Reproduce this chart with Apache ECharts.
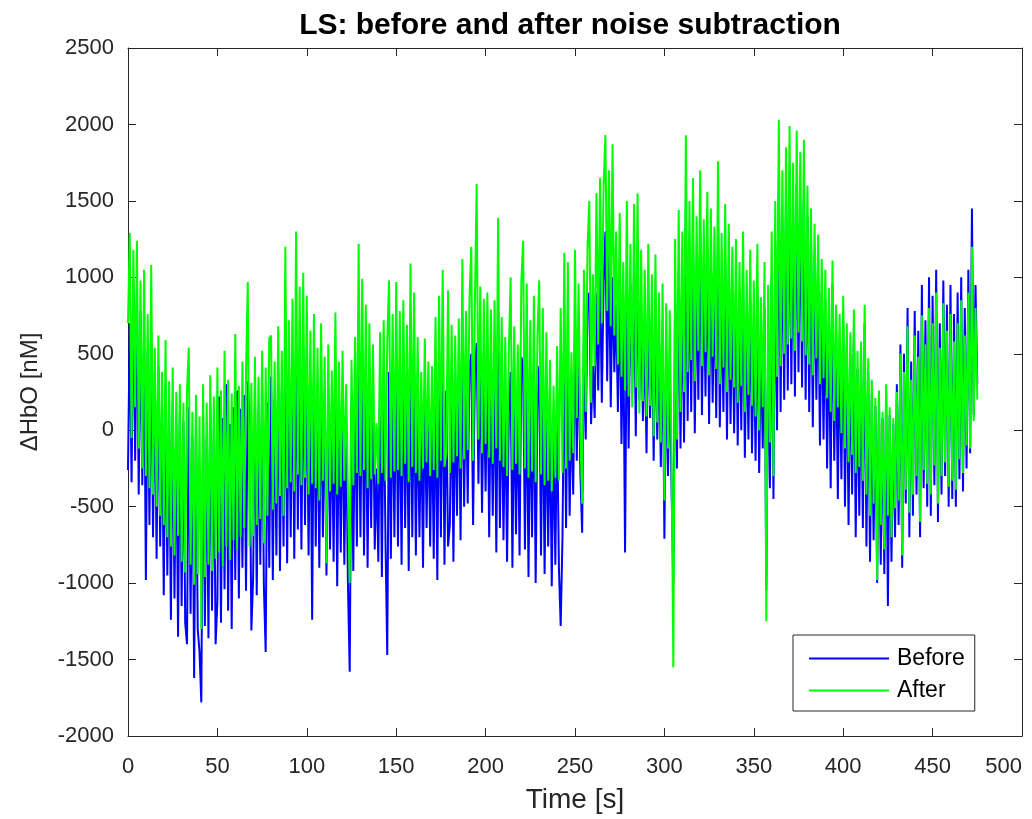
<!DOCTYPE html>
<html>
<head>
<meta charset="utf-8">
<script src="https://cdn.jsdelivr.net/npm/echarts@6/dist/echarts.min.js"></script>
<style>
html, body { margin: 0; padding: 0; background: #fff; }
#chart { width: 1032px; height: 819px; }
</style>
</head>
<body>
<div id="chart"></div>
<script>
// LS channel, one sample per second starting at t = 0 s
const t_start = 0;
const t_step = 1;

const series_names = ["Before", "After"];

// dHbO before noise subtraction [nM]
const before_values = [
    -260, 700, -340, 980, -200, 900, -420, 780, -360, 640,
    -980, 520, -620, 640, -700, 380, -840, 420, -760, 150,
    -1080, 260, -950, 100, -1240, 180, -1100, 40, -1350, 120,
    -1150, 60, -1260, -1400, 150, -1200, -40, -1620, 90, -1300,
    -1450, -1780, 100, -1280, -50, -1360, 180, -1180, 20, -1400,
    -1120, 220, -1260, 80, -1040, 300, -1180, 40, -1300, 150,
    -980, 260, -1100, 140, -900, 230, -1050, 320, 60, -1310,
    -960, 270, -1080, 130, -880, 300, -1020, -1450, 180, -900,
    350, -980, 210, -820, 400, -920, 260, -760, 520, -870,
    380, -700, 460, -840, 600, -650, 420, -780, 550, -620,
    480, -820, 300, -1240, 420, -760, 250, -900, 380, -700,
    200, -950, 280, -780, 120, -860, 340, -1020, 150, -800,
    220, -880, 60, -1000, -1580, 180, -920, 300, -760, 420,
    -700, 520, -820, 380, -900, 260, -640, 330, -780, -250,
    -860, 250, -960, 340, -720, -1470, 380, -840, 300, -700,
    450, -760, 320, -880, 400, -640, 280, -920, 500, -700,
    380, -820, 200, -700, 80, -900, 260, -640, 140, -760,
    120, -840, 330, -980, 400, -700, 520, -880, 260, -760,
    -620, 300, -860, 240, -560, 380, -720, 560, -500, 350,
    -480, 420, 500, -620, 380, 570, -350, 460, -540, 300,
    -400, 480, -700, 360, -560, 420, -800, 560, -640, 280,
    -720, 200, -860, 120, 380, -900, 240, -680, 160, -820,
    480, 420, -780, 360, -960, 220, -700, 380, -1000, 160,
    420, -820, 300, -940, 150, -760, 60, -1020, -40, -880,
    120, -900, -1280, -700, 520, -640, 480, -560, 140, -420,
    680, -200, 560, -280, -670, 600, -60, 820, 900, 40,
    420, 80, 900, 260, 1050, 180, 960, 1300, 320, 1150,
    150, 1000, 380, 820, 120, 900, -90, 700, -800, 880,
    -120, 960, 240, 1050, -40, 1100, 200, 760, 60, 640,
    -150, 800, 80, 700, -200, 760, -60, 540, -240, 620,
    -710, 520, -300, 460, -380, -1000, 900, -250, 1050, -120,
    900, -80, 1450, 60, 1100, 120, 1250, -20, 1000, 200,
    1300, 100, 1000, 220, 1200, 40, 1050, 180, 950, 80,
    1350, 20, 900, 120, 1100, -60, 980, 40, 850, -20,
    900, -100, 780, 0, 1000, -180, 700, -60, 850, -150,
    650, -200, 900, -280, 560, -120, 800, -1050, 620, -380,
    1000, -450, 1200, 0, 1650, 120, 1350, 200, 1500, 260,
    1700, 300, 1450, 220, 1600, 380, 1500, 280, 1550, 200,
    1400, 120, 1250, 20, 1150, 200, 1000, -100, 900, -60,
    850, -250, 700, -380, 950, -200, 600, -450, 560, -320,
    720, -500, 560, -620, 500, -420, 680, -700, 400, -560,
    480, -640, 700, -760, 380, -860, 240, -720, 160, -1000,
    200, -880, 80, -940, 250, -1150, 100, -860, 40, -700,
    300, -620, 560, -900, 500, -480, 800, -700, 450, -560,
    780, -420, 650, -700, 950, -380, 720, -500, 1000, -560,
    880, -360, 1050, -600, 700, -420, 980, -300, 820, -500,
    950, -450, 760, -500, 900, -320, 1000, -400, 800, -250,
    1050, -150, 1450, 100, 950, 300
];

// dHbO after noise subtraction [nM]
const after_values = [
    700, 1290, -50, 1180, 150, 1240, -120, 980, -250, 1050,
    -300, 760, -380, 1080, -420, 540, -500, 620, -560, 380,
    -620, 590, -700, 320, -760, 410, -820, 250, -690, 300,
    -860, 180, -930, 260, 540, -880, 120, -1010, 230, -940,
    90, -1300, 300, -960, 180, -880, 360, -920, 220, -840,
    410, -800, 260, -890, 520, -760, 330, -850, 240, -720,
    630, -780, 290, -700, 450, -640, 380, 970, -760, 310,
    -690, 480, -620, 350, -580, 520, -740, 410, -560, 600,
    620, -520, 450, -480, 680, -430, 520, -560, 1200, -380,
    720, -340, 860, -400, 1300, -290, 940, -360, 1030, -310,
    880, -420, 650, -350, 760, -380, 540, -460, 700, -330,
    480, -870, 560, -400, 390, -350, 770, -420, 450, -370,
    520, -330, 300, -410, -1000, 460, -360, 610, -280, 1220,
    -300, 990, -260, 820, -380, 700, -320, 560, -290, 45,
    -350, 640, -280, 720, -330, 580, 980, -310, 760, -270,
    970, -260, 780, -300, 850, -220, 690, -340, 1090, -240,
    900, -280, 610, -330, 380, -250, 600, -210, 450, -300,
    420, -260, 740, -310, 880, -200, 1050, -240, -150, 915,
    -280, 690, -210, 620, -170, 730, -250, 1120, -190, 780,
    -130, 870, 1200, -200, 820, 1610, -60, 940, -150, 860,
    -90, 900, -180, 790, -220, 850, -120, 1390, -200, 740,
    -240, 610, -300, 520, 1000, -260, 680, -220, 560, -290,
    980, 1240, -250, 960, -310, 720, -270, 880, -340, 610,
    980, -290, 800, -360, 640, -330, 460, -400, 290, -310,
    550, -330, 800, -280, 1160, -250, 1100, -200, 510, -150,
    1180, 80, 960, -30, -480, 1050, 120, 1200, 1500, 180,
    1020, 420, 1550, 560, 1650, 700, 1600, 1930, 780, 1700,
    680, 1870, 620, 1300, 430, 1420, 350, 1100, 260, 1500,
    220, 1220, 150, 1480, 280, 1550, 110, 1180, 190, 1050,
    90, 1220, 160, 1020, -40, 1150, 50, 900, -80, 960,
    -460, 830, -120, 785, -200, -1550, 1250, -60, 1440, 120,
    1300, 250, 1930, 380, 1500, 460, 1650, 320, 1400, 520,
    1700, 420, 1380, 510, 1560, 360, 1450, 480, 1330, 400,
    1760, 300, 1290, 410, 1480, 250, 1350, 330, 1200, 280,
    1250, 180, 1100, 290, 1300, 120, 1050, 230, 1180, 160,
    980, 90, 1220, 0, 870, 150, 1100, -1250, 950, -80,
    1300, -300, 1500, 350, 2030, 420, 1700, 500, 1850, 560,
    1990, 600, 1750, 520, 1960, 640, 1820, 580, 1900, 490,
    1600, 430, 1450, 360, 1350, 470, 1280, 300, 1120, 340,
    1050, 210, 930, 120, 1110, 60, 820, 150, 760, -20,
    880, -120, 700, -210, 640, -160, 790, -280, 520, -240,
    580, -330, 820, -420, 470, -560, 330, -480, 210, -980,
    260, -620, 120, -780, 300, -560, 150, -700, 80, -510,
    250, -460, 500, -820, 380, -390, 680, -540, 330, -420,
    620, -300, 480, -600, 750, -260, 560, -350, 800, -420,
    700, -230, 900, -480, 540, -300, 830, -210, 650, -370,
    760, -330, 580, -390, 700, -190, 850, -280, 620, -100,
    900, -120, 1200, 60, 800, 200
];

const x_min = 0, x_max = 500, x_interval = 50;
const y_min = -2000, y_max = 2500, y_interval = 500;

const axis_color = "#262626";
const font = "'Liberation Sans', Arial, Helvetica, sans-serif";

function to_points(values) {
    let pts = [];
    for (let i = 0; i < values.length; i++) pts.push([t_start + i * t_step, values[i]]);
    return pts;
}

function make_axis(extra) {
    let ax = {
        type: "value",
        axisLine: { show: true, onZero: false, lineStyle: { color: axis_color, width: 1 } },
        axisTick: { show: true, inside: true, length: 8, lineStyle: { color: axis_color } },
        splitLine: { show: false },
    };
    return Object.assign(ax, extra);
}

let myChart = echarts.init(document.getElementById("chart"));
let option = {
    animation: false,
    backgroundColor: "#fff",
    title: {
        text: "LS: before and after noise subtraction",
        left: 565,
        textAlign: "center",
        top: 6,
        textStyle: { fontFamily: font, fontSize: 30, fontWeight: "bold", color: "#000" },
    },
    grid: { left: 128, right: 10, top: 48, bottom: 83, outerBoundsMode: "none" },
    legend: {
        data: series_names,
        orient: "vertical",
        left: 793,
        top: 635,
        icon: "rect",
        itemWidth: 80,
        itemHeight: 2,
        itemGap: 9,
        padding: [12, 10, 9, 16],
        backgroundColor: "#fff",
        borderColor: axis_color,
        borderWidth: 1,
        borderRadius: 0,
        textStyle: { fontFamily: font, fontSize: 23, color: "#000", padding: [0, 0, 0, 3] },
    },
    xAxis: [
        make_axis({
            min: x_min, max: x_max, interval: x_interval,
            name: "Time [s]", nameLocation: "middle", nameGap: 50,
            nameTextStyle: { fontFamily: font, fontSize: 28, color: axis_color },
            axisLabel: { fontFamily: font, fontSize: 22, color: axis_color, margin: 20,
                         alignMaxLabel: "right",
                         formatter: function (v) { return String(v); } },
        }),
        make_axis({
            position: "top", min: x_min, max: x_max, interval: x_interval,
            axisLabel: { show: false },
        }),
    ],
    yAxis: [
        make_axis({
            min: y_min, max: y_max, interval: y_interval,
            name: "\u0394HbO [nM]", nameLocation: "middle", nameGap: 86,
            nameTextStyle: { fontFamily: font, fontSize: 24, color: axis_color },
            axisLabel: { fontFamily: font, fontSize: 22, color: axis_color, margin: 14,
                         formatter: function (v) { return String(v); } },
        }),
        make_axis({
            position: "right", min: y_min, max: y_max, interval: y_interval,
            axisLabel: { show: false },
        }),
    ],
    series: [
        {
            name: series_names[0],
            type: "line",
            data: to_points(before_values),
            showSymbol: false,
            symbol: "none",
            lineStyle: { color: "#0000ff", width: 2 },
            itemStyle: { color: "#0000ff" },
        },
        {
            name: series_names[1],
            type: "line",
            data: to_points(after_values),
            showSymbol: false,
            symbol: "none",
            lineStyle: { color: "#00ff00", width: 2 },
            itemStyle: { color: "#00ff00" },
        },
    ],
};
myChart.setOption(option);
</script>
</body>
</html>
